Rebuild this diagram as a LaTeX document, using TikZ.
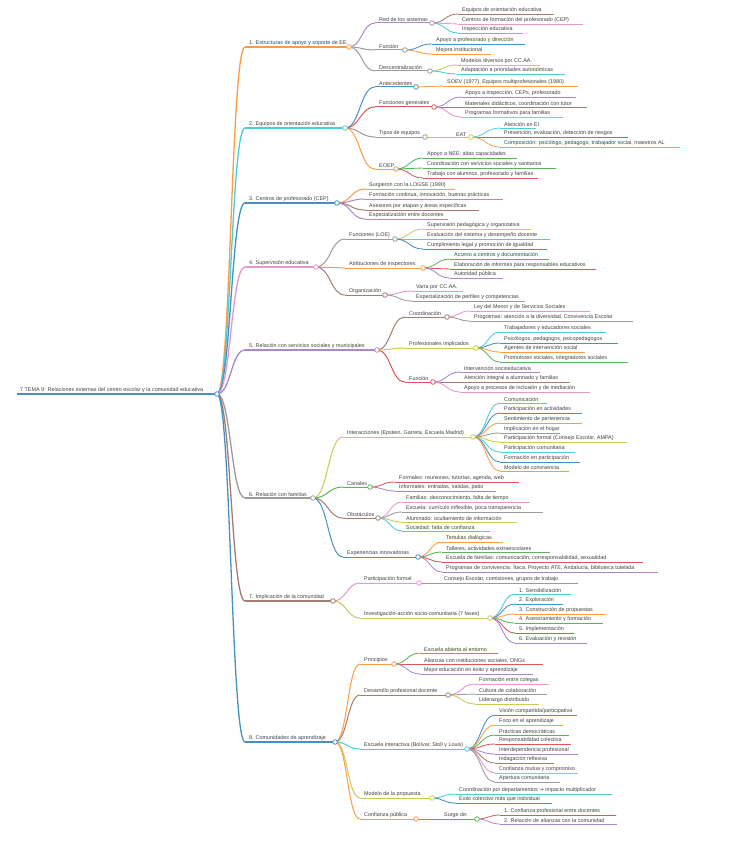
\documentclass[tikz,border=0pt]{standalone}
\usepackage{fontspec}
\setmainfont{Liberation Sans}
\newfontfamily\symf{DejaVu Sans}
\usetikzlibrary{calc}
\definecolor{xB}{HTML}{1F77B4}
\definecolor{xO}{HTML}{FF7F0E}
\definecolor{xG}{HTML}{2CA02C}
\definecolor{xR}{HTML}{D62728}
\definecolor{xP}{HTML}{9467BD}
\definecolor{xBr}{HTML}{8C564B}
\definecolor{xPk}{HTML}{E377C2}
\definecolor{xGy}{HTML}{7F7F7F}
\definecolor{xOl}{HTML}{BCBD22}
\definecolor{xC}{HTML}{17BECF}
\colorlet{cB}{xB!82!white}
\colorlet{cO}{xO!78!white}
\colorlet{cG}{xG!78!white}
\colorlet{cR}{xR!78!white}
\colorlet{cP}{xP!78!white}
\colorlet{cBr}{xBr!78!white}
\colorlet{cPk}{xPk!78!white}
\colorlet{cGy}{xGy!78!white}
\colorlet{cOl}{xOl!78!white}
\colorlet{cC}{xC!78!white}
\tikzset{
  lbl/.style={inner sep=0pt, anchor=south west, font=\fontsize{5.4}{6.4}\selectfont, text=black!75},
  l0/.style={line width=1.5pt}, l1/.style={line width=1.3pt}, l2/.style={line width=1.0pt},
  l3/.style={line width=0.85pt}, l4/.style={line width=0.75pt},
  dot/.style={fill=white, line width=0.8pt},
}
% child node: parent, name, xs, xe, y, colour, width, text
\newcommand\MMch[8]{%
  \coordinate (#2s) at (#3,#5);
  \coordinate (#2e) at (#4,#5);
  \node[lbl] (#2) at ([xshift=4pt,yshift=0.8pt]#2s) {#8};
  \draw[#6,#7] (#2s) -- (#2e);
  \draw[#6,#7] let \p1=(#1e), \p2=(#2s) in (\p1) .. controls ({(\x1+\x2)/2},\y1) and ({(\x1+\x2)/2},\y2) .. (\p2);
}
\newcommand\MMdot[2]{\draw[#2,dot] (#1e) circle[radius=2.3pt];}
\begin{document}
\begin{tikzpicture}[x=1pt,y=-1pt]
\useasboundingbox[fill=white] (0,0) rectangle (729,848);
% root
\coordinate (rs) at (17,394);
\coordinate (re) at (217,394);
\node[lbl] (r) at ([xshift=3pt,yshift=0.9pt]rs) {7 TEMA 9: Relaciones externas del centro escolar y la comunidad educativa};
\draw[cB,l0] (rs) -- (re);
% level 1
\MMch{r}{a}{245}{349}{47}{cO}{l1}{1. Estructuras de apoyo y soporte de EE}
\MMch{r}{b}{245}{345}{128}{cC}{l1}{2. Equipos de orientación educativa}
\MMch{r}{c}{245}{337}{203}{cB}{l1}{3. Centros de profesorado (CEP)}
\MMch{r}{d}{245}{316}{267}{cPk}{l1}{4. Supervisión educativa}
\MMch{r}{e}{245}{377}{350}{cP}{l1}{5. Relación con servicios sociales y municipales}
\MMch{r}{f}{245}{313}{498}{cGy}{l1}{6. Relación con familias}
\MMch{r}{g}{245}{333}{601}{cBr}{l1}{7. Implicación de la comunidad}
\MMch{r}{h}{245}{335}{742}{cB}{l1}{8. Comunidades de aprendizaje}
% 1
\MMch{a}{a1}{375}{432}{23}{cP}{l2}{Red de los sistemas}
\MMch{a}{a2}{375}{405}{50}{cGy}{l2}{Función}
\MMch{a}{a3}{375}{430}{71}{cGy}{l2}{Descentralización}
\MMch{a1}{a11}{458}{554}{14}{cBr}{l3}{Equipos de orientación educativa}
\MMch{a1}{a12}{458}{583}{24}{cPk}{l3}{Centros de formación del profesorado (CEP)}
\MMch{a1}{a13}{458}{523}{33}{cC}{l3}{Inspección educativa}
\MMch{a2}{a21}{432}{525}{44}{cB}{l3}{Apoyo a profesorado y dirección}
\MMch{a2}{a22}{432}{491}{54}{cO}{l3}{Mejora institucional}
\MMch{a3}{a31}{457}{540}{65}{cOl}{l3}{Modelos diversos por CC.AA.}
\MMch{a3}{a32}{457}{565}{74}{cC}{l3}{Adaptación a prioridades autonómicas}
% 2
\MMch{b}{b1}{375}{416}{87}{cB}{l2}{Antecedentes}
\MMch{b}{b2}{375}{434}{107}{cR}{l2}{Funciones generales}
\MMch{b}{b3}{375}{425}{137}{cGy}{l2}{Tipos de equipos}
\MMch{b}{b4}{375}{396}{169}{cO}{l2}{EOEP}
\MMch{b1}{b11}{443}{578}{86}{cO}{l3}{SOEV (1977), Equipos multiprofesionales (1980)}
\MMch{b2}{b21}{461}{576}{97}{cP}{l3}{Apoyo a inspección, CEPs, profesorado}
\MMch{b2}{b22}{461}{587}{107}{cBr}{l3}{Materiales didácticos, coordinación con tutor}
\MMch{b2}{b23}{461}{563}{117}{cPk}{l3}{Programas formativos para familias}
\MMch{b3}{b31}{452}{471}{137}{cOl}{l3}{EAT}
\MMch{b31}{b311}{500}{536}{128}{cC}{l4}{Atención en EI}
\MMch{b31}{b312}{500}{628}{137}{cB}{l4}{Prevención, evaluación, detección de riesgos}
\MMch{b31}{b313}{500}{680}{147}{cO}{l4}{Composición: psicólogo, pedagogo, trabajador social, maestros AL}
\MMch{b4}{b41}{423}{517}{158}{cG}{l3}{Apoyo a NEE: altas capacidades}
\MMch{b4}{b42}{423}{556}{168}{cG}{l3}{Coordinación con servicios sociales y sanitarios}
\MMch{b4}{b43}{423}{538}{178}{cR}{l3}{Trabajo con alumnos, profesorado y familias}
% 3
\MMch{c}{c1}{365}{455}{189}{cO}{l2}{Surgieron con la LOGSE (1990)}
\MMch{c}{c2}{365}{503}{199}{cP}{l2}{Formación continua, innovación, buenas prácticas}
\MMch{c}{c3}{365}{479}{210}{cBr}{l2}{Asesores por etapas y áreas específicas}
\MMch{c}{c4}{365}{448}{219}{cP}{l2}{Especialización entre docentes}
% 4
\MMch{d}{d1}{345}{395}{239}{cGy}{l2}{Funciones (LOE)}
\MMch{d}{d2}{345}{423}{268}{cO}{l2}{Atribuciones de inspectores}
\MMch{d}{d3}{345}{385}{295}{cBr}{l2}{Organización}
\MMch{d1}{d11}{423}{531}{229}{cOl}{l3}{Supervisión pedagógica y organizativa}
\MMch{d1}{d12}{423}{550}{239}{cC}{l3}{Evaluación del sistema y desempeño docente}
\MMch{d1}{d13}{423}{547}{249}{cB}{l3}{Cumplimiento legal y promoción de igualdad}
\MMch{d2}{d21}{450}{549}{259}{cG}{l3}{Acceso a centros y documentación}
\MMch{d2}{d22}{450}{596}{269}{cR}{l3}{Elaboración de informes para responsables educativos}
\MMch{d2}{d23}{450}{503}{278}{cP}{l3}{Autoridad pública}
\MMch{d3}{d31}{412}{463}{291}{cPk}{l3}{Varía por CC.AA.}
\MMch{d3}{d32}{412}{525}{301}{cGy}{l3}{Especialización de perfiles y competencias}
% 5
\MMch{e}{e1}{405}{447}{317}{cBr}{l2}{Coordinación}
\MMch{e}{e2}{405}{476}{348}{cOl}{l2}{Profesionales implicados}
\MMch{e}{e3}{405}{433}{382}{cR}{l2}{Función}
\MMch{e1}{e11}{470}{590}{311}{cPk}{l3}{Ley del Menor y de Servicios Sociales}
\MMch{e1}{e12}{470}{633}{321}{cGy}{l3}{Programas: atención a la diversidad, Convivencia Escolar}
\MMch{e2}{e21}{500}{606}{332}{cC}{l3}{Trabajadores y educadores sociales}
\MMch{e2}{e22}{500}{618}{343}{cB}{l3}{Psicólogos, pedagogos, psicopedagogos}
\MMch{e2}{e23}{500}{585}{352}{cO}{l3}{Agentes de intervención social}
\MMch{e2}{e24}{500}{628}{362}{cG}{l3}{Promotores sociales, integradores sociales}
\MMch{e3}{e31}{460}{540}{372}{cP}{l3}{Intervención socioeducativa}
\MMch{e3}{e32}{460}{570}{382}{cBr}{l3}{Atención integral a alumnado y familias}
\MMch{e3}{e33}{460}{590}{392}{cPk}{l3}{Apoyo a procesos de inclusión y de mediación}
% 6
\MMch{f}{f1}{343}{473}{437}{cOl}{l2}{Interacciones (Epstein, Garreta, Escuela Madrid)}
\MMch{f}{f2}{343}{370}{487}{cG}{l2}{Canales}
\MMch{f}{f3}{343}{378}{518}{cBr}{l2}{Obstáculos}
\MMch{f}{f4}{343}{418}{557}{cB}{l2}{Experiencias innovadoras}
\MMch{f1}{f11}{500}{547}{403}{cC}{l3}{Comunicación}
\MMch{f1}{f12}{500}{582}{413}{cB}{l3}{Participación en actividades}
\MMch{f1}{f13}{500}{582}{423}{cO}{l3}{Sentimiento de pertenencia}
\MMch{f1}{f14}{500}{560}{433}{cGy}{l3}{Implicación en el hogar}
\MMch{f1}{f15}{500}{627}{442}{cOl}{l3}{Participación formal (Consejo Escolar, AMPA)}
\MMch{f1}{f16}{500}{575}{452}{cC}{l3}{Participación comunitaria}
\MMch{f1}{f17}{500}{580}{462}{cB}{l3}{Formación en participación}
\MMch{f1}{f18}{500}{569}{471}{cO}{l3}{Modelo de convivencia}
\MMch{f2}{f21}{395}{519}{482}{cR}{l3}{Formales: reuniones, tutorías, agenda, web}
\MMch{f2}{f22}{395}{496}{491}{cP}{l3}{Informales: entradas, salidas, patio}
\MMch{f3}{f31}{402}{530}{502}{cPk}{l3}{Familias: desconocimiento, falta de tiempo}
\MMch{f3}{f32}{402}{543}{512}{cGy}{l3}{Escuela: currículo inflexible, poca transparencia}
\MMch{f3}{f33}{402}{517}{522}{cOl}{l3}{Alumnado: ocultamiento de información}
\MMch{f3}{f34}{402}{490}{531}{cC}{l3}{Sociedad: falta de confianza}
\MMch{f4}{f41}{442}{503}{542}{cO}{l3}{Tertulias dialógicas}
\MMch{f4}{f42}{442}{550}{552}{cG}{l3}{Talleres, actividades extraescolares}
\MMch{f4}{f43}{442}{643}{562}{cR}{l3}{Escuela de familias: comunicación, corresponsabilidad, sexualidad}
\MMch{f4}{f44}{442}{658}{572}{cP}{l3}{Programas de convivencia: Ítaca, Proyecto ATE, Andalucía, biblioteca tutelada}
% 7
\MMch{g}{g1}{360}{419}{583}{cPk}{l2}{Participación formal}
\MMch{g}{g2}{360}{490}{618}{cOl}{l2}{Investigación-acción socio-comunitaria (7 fases)}
\MMch{g1}{g11}{440}{578}{583}{cGy}{l3}{Consejo Escolar, comisiones, grupos de trabajo}
\MMch{g2}{g21}{515}{571}{594}{cC}{l3}{1. Sensibilización}
\MMch{g2}{g22}{515}{563}{604}{cB}{l3}{2. Exploración}
\MMch{g2}{g23}{515}{605}{614}{cO}{l3}{3. Construcción de propuestas}
\MMch{g2}{g24}{515}{603}{623}{cG}{l3}{4. Asesoramiento y formación}
\MMch{g2}{g25}{515}{574}{633}{cR}{l3}{5. Implementación}
\MMch{g2}{g26}{515}{587}{643}{cP}{l3}{6. Evaluación y revisión}
% 8
\MMch{h}{h1}{360}{394}{664}{cO}{l2}{Principios}
\MMch{h}{h2}{360}{448}{695}{cBr}{l2}{Desarrollo profesional docente}
\MMch{h}{h3}{360}{467}{749}{cC}{l2}{Escuela interactiva (Bolívar, Stoll y Louis)}
\MMch{h}{h4}{360}{432}{798}{cOl}{l2}{Modelo de la propuesta}
\MMch{h}{h5}{360}{416}{819}{cO}{l2}{Confianza pública}
\MMch{h1}{h11}{420}{498}{653}{cG}{l3}{Escuela abierta al entorno}
\MMch{h1}{h12}{420}{543}{664}{cR}{l3}{Alianzas con instituciones sociales, ONGs}
\MMch{h1}{h13}{420}{533}{674}{cP}{l3}{Mejor educación en éxito y aprendizaje}
\MMch{h2}{h21}{475}{549}{684}{cPk}{l3}{Formación entre colegas}
\MMch{h2}{h22}{475}{547}{694}{cGy}{l3}{Cultura de colaboración}
\MMch{h2}{h23}{475}{539}{704}{cOl}{l3}{Liderazgo distribuido}
\MMch{h3}{h31}{495}{577}{715}{cB}{l3}{Visión compartida/participativa}
\MMch{h3}{h32}{495}{563}{725}{cO}{l3}{Foco en el aprendizaje}
\MMch{h3}{h33}{495}{569}{735}{cG}{l3}{Prácticas democráticas}
\MMch{h3}{h34}{495}{571}{744}{cR}{l3}{Responsabilidad colectiva}
\MMch{h3}{h35}{495}{578}{754}{cP}{l3}{Interdependencia profesional}
\MMch{h3}{h36}{495}{554}{763}{cBr}{l3}{Indagación reflexiva}
\MMch{h3}{h37}{495}{578}{773}{cPk}{l3}{Confianza mutua y compromiso}
\MMch{h3}{h38}{495}{560}{782}{cGy}{l3}{Apertura comunitaria}
\MMch{h4}{h41}{455}{612}{794}{cC}{l3}{Coordinación por departamentos {\symf →} impacto multiplicador}
\MMch{h4}{h42}{455}{552}{803}{cB}{l3}{Éxito colectivo más que individual}
\MMch{h5}{h51}{440}{477}{819}{cG}{l3}{Surge de:}
\MMch{h51}{h511}{500}{616}{815}{cR}{l4}{1. Confianza profesional entre docentes}
\MMch{h51}{h512}{500}{617}{824}{cP}{l4}{2. Relación de alianzas con la comunidad}
% circles
\MMdot{r}{cB}
\MMdot{a}{cO}\MMdot{b}{cC}\MMdot{c}{cB}\MMdot{d}{cPk}\MMdot{e}{cP}\MMdot{f}{cGy}\MMdot{g}{cBr}\MMdot{h}{cB}
\MMdot{a1}{cP}\MMdot{a2}{cGy}\MMdot{a3}{cGy}
\MMdot{b1}{cB}\MMdot{b2}{cR}\MMdot{b3}{cGy}\MMdot{b4}{cO}\MMdot{b31}{cOl}
\MMdot{d1}{cGy}\MMdot{d2}{cO}\MMdot{d3}{cBr}
\MMdot{e1}{cBr}\MMdot{e2}{cOl}\MMdot{e3}{cR}
\MMdot{f1}{cOl}\MMdot{f2}{cG}\MMdot{f3}{cBr}\MMdot{f4}{cB}
\MMdot{g1}{cPk}\MMdot{g2}{cOl}
\MMdot{h1}{cO}\MMdot{h2}{cBr}\MMdot{h3}{cC}\MMdot{h4}{cOl}\MMdot{h5}{cO}\MMdot{h51}{cG}
\end{tikzpicture}
\end{document}
